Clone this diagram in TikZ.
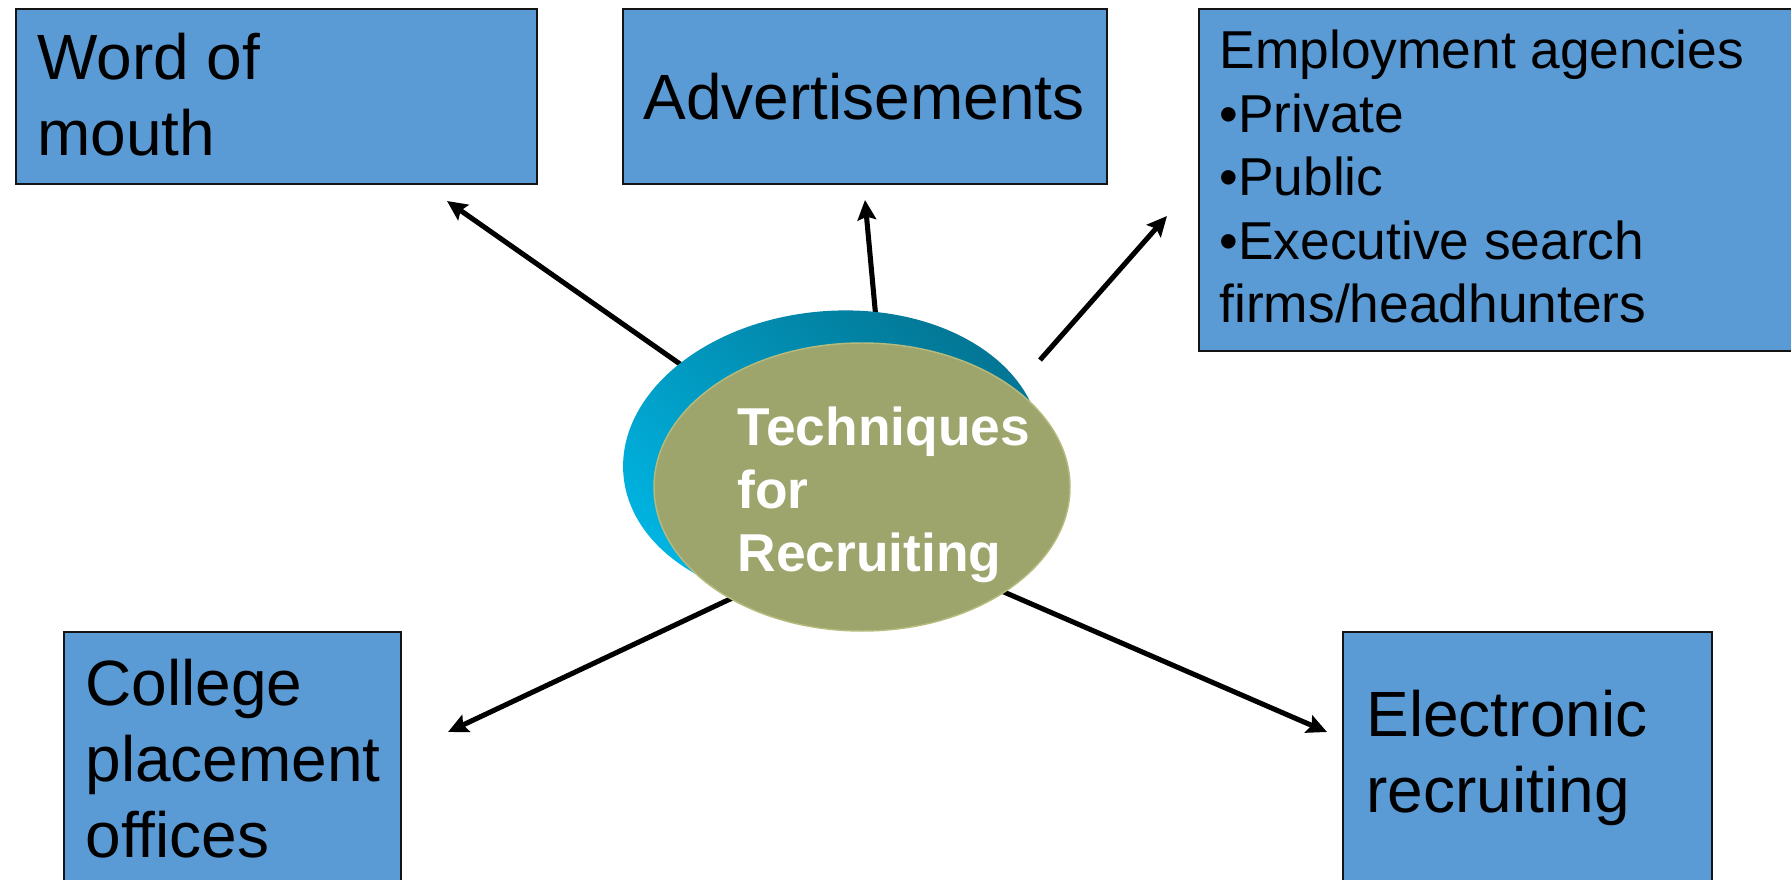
\documentclass[tikz,border=0pt]{standalone}
\usepackage{fontspec}
\setmainfont{Liberation Sans}
\usetikzlibrary{shapes.geometric,arrows.meta}

\definecolor{rimDark}{RGB}{3,118,148}
\definecolor{rimLight}{RGB}{0,180,226}

\tikzset{every picture/.style={line width=0.75pt}}
\tikzset{
	box/.style={draw={rgb, 255:red, 20; green, 20; blue, 20 }, fill={rgb, 255:red, 91; green, 155; blue, 213 }, line width=1.5pt, inner sep=0, anchor=north west},
	boxtext/.style={anchor=base west, inner sep=0, align=flush left, font=\fontsize{48}{57}\selectfont},
	spoke/.style={line width=3.8pt, -{Stealth[length=15pt,width=14pt,inset=2.5pt]}},
	rimdisc/.style={ellipse, inner sep=0, top color=rimDark, bottom color=rimLight, shading angle=-40},
	hubdisc/.style={ellipse, inner sep=0, fill={rgb, 255:red, 157; green, 165; blue, 108 }, draw={rgb, 255:red, 182; green, 186; blue, 124 }, line width=1.1pt}
}

\begin{document}
\begin{tikzpicture}[x=0.75pt,y=0.75pt,yscale=-1,xscale=1]
	\useasboundingbox (0,0) rectangle (1791,880);
	\clip (0,0) rectangle (1791,880);

	%Shape: Rectangle
	\node [box, minimum width=390.75pt, minimum height=131.25pt] (wom) at (15,8) {};
	%Shape: Rectangle
	\node [box, minimum width=363pt, minimum height=131.25pt] (adv) at (622,8) {};
	%Shape: Rectangle
	\node [box, minimum width=481.5pt, minimum height=256.5pt] (emp) at (1198,8) {};
	%Shape: Rectangle
	\node [box, minimum width=252.75pt, minimum height=201.75pt] (col) at (63,631) {};
	%Shape: Rectangle
	\node [box, minimum width=276.75pt, minimum height=201.75pt] (ele) at (1342,631) {};

	%Straight Lines
	\coordinate (womTail) at (690,371);
	\coordinate (womTip) at (447,201);
	\draw [spoke] (womTail) -- (womTip);
	%Straight Lines
	\coordinate (advTail) at (877,330);
	\coordinate (advTip) at (865,200);
	\draw [spoke] (advTail) -- (advTip);
	%Straight Lines
	\coordinate (empTail) at (1040,360);
	\coordinate (empTip) at (1167,216);
	\draw [spoke] (empTail) -- (empTip);
	%Straight Lines
	\coordinate (colTail) at (745,592);
	\coordinate (colTip) at (448,732);
	\draw [spoke] (colTail) -- (colTip);
	%Straight Lines
	\coordinate (eleTail) at (990,586);
	\coordinate (eleTip) at (1327,732);
	\draw [spoke] (eleTail) -- (eleTip);

	%Shape: Ellipse
	\node [rimdisc, rotate=5, minimum width=314pt, minimum height=219pt] (rim) at (832,457) {};
	%Shape: Ellipse
	\node [hubdisc, minimum width=312pt, minimum height=216pt] (hub) at (862,487) {};

	% Text Node
	\node [boxtext, text width=380pt] (womText) at (37,80) {Word of\\mouth};
	% Text Node
	\node [boxtext, anchor=base] (advText) at (864,120) {Advertisements};
	% Text Node
	\node [boxtext, text width=440pt, font=\fontsize{40}{47.6}\selectfont] (empText) at (1219,69) {Employment agencies\\•Private\\•Public\\•Executive search\\firms/headhunters};
	% Text Node
	\node [boxtext, text width=240pt] (colText) at (85,705) {College\\placement\\offices};
	% Text Node
	\node [boxtext, text width=260pt] (eleText) at (1366,736) {Electronic\\recruiting};
	% Text Node
	\node [boxtext, text width=250pt, text={rgb, 255:red, 255; green, 255; blue, 255 }, font=\bfseries\fontsize{40}{47.3}\selectfont] (hubText) at (737,445) {Techniques\\for\\Recruiting};

\end{tikzpicture}
\end{document}
